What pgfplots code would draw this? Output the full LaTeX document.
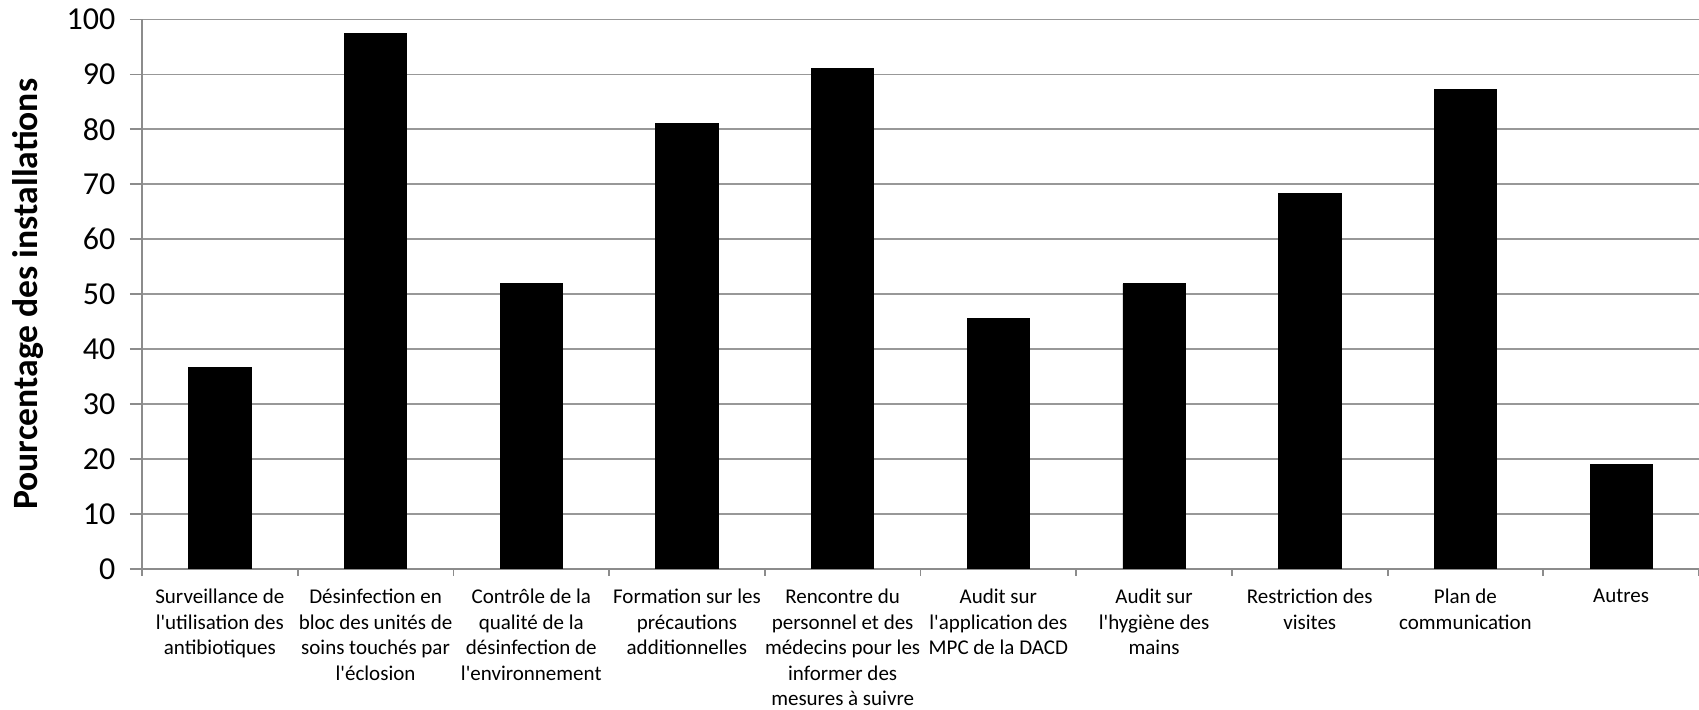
\documentclass[border=0pt]{standalone}
\usepackage{fontspec}
\setmainfont{Carlito}[Ligatures=TeXOff]
\usepackage{pgfplots}
\pgfplotsset{compat=1.18}
\definecolor{axgray}{HTML}{8C8C8C}
\definecolor{gridgray}{HTML}{989898}

\begin{document}
\begin{tikzpicture}
\begin{axis}[
  at={(0,0)}, anchor=south west,
  scale only axis, width=778.5pt, height=274.75pt,
  xmin=-0.5, xmax=9.5, ymin=0, ymax=100,
  ybar, bar width=0.4,
  axis x line*=bottom, axis y line*=left,
  axis line style={-, axgray, line width=0.9pt},
  tick align=outside,
  xtick={-0.5,0.5,...,9.5},
  x tick label as interval,
  xticklabels={
    {Surveillance de\\l'utilisation des\\antibiotiques},
    {Désinfection en\\bloc des unités de\\soins touchés par\\l'éclosion},
    {Contrôle de la\\qualité de la\\désinfection de\\l'environnement},
    {Formation sur les\\précautions\\additionnelles},
    {Rencontre du\\personnel et des\\médecins pour les\\informer des\\mesures à suivre},
    {Audit sur\\l'application des\\MPC de la DACD},
    {Audit sur\\l'hygiène des\\mains},
    {Restriction des\\visites},
    {Plan de\\communication},
    {Autres}},
  xticklabel style={font=\fontsize{10.5}{12.75}\selectfont, align=center, anchor=north, yshift=-2.3pt},
  xtick style={axgray, line width=0.9pt, /pgfplots/major tick length=3.5pt},
  ytick={0,10,...,100},
  ytick style={axgray, line width=0.9pt, /pgfplots/major tick length=6pt},
  yticklabel style={font=\fontsize{16}{19}\selectfont, xshift=-5.5pt},
  /pgf/number format/assume math mode=true,
  ymajorgrids,
  major grid style={gridgray, line width=0.9pt},
  ylabel={Pourcentage des installations},
  ylabel style={font=\fontsize{17.8}{20}\selectfont\bfseries, at={(axis description cs:-0.073,0.5)}, anchor=center},
]
\addplot[fill=black, draw=black] coordinates {
  (0,36.7) (1,97.5) (2,51.9) (3,81.0) (4,91.1)
  (5,45.6) (6,51.9) (7,68.4) (8,87.3) (9,19.0)
};
\end{axis}
\pgfresetboundingbox
\useasboundingbox (-71pt,-70.5pt) rectangle (778.5pt,284.5pt);
\end{tikzpicture}
\end{document}
